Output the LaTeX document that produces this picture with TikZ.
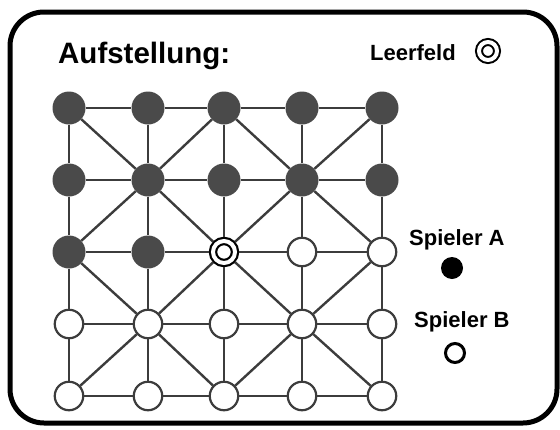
\documentclass[tikz,border=0pt]{standalone}
\usepackage{fontspec}
\setmainfont{Liberation Sans}
\definecolor{dunkelgrau}{HTML}{4A4A4A}
\definecolor{linie}{HTML}{3C3C3C}

\begin{document}
\begin{tikzpicture}[x=1pt, y=-1pt]
\tikzset{dunkel/.style={circle, fill=dunkelgrau, inner sep=0pt, minimum size=33pt},
  hell/.style={circle, draw=linie, fill=white, line width=2.2pt, inner sep=0pt, minimum size=28.5pt},
  leer/.style={circle, draw=black, double=white, line width=2.2pt, double distance=4pt, inner sep=0pt, minimum size=22pt, outer sep=4pt},
  kante/.style={draw=linie, line width=2.4pt},
  schrift/.style={inner sep=0pt, anchor=base west, font=\bfseries\fontsize{22}{24}\selectfont}}
\useasboundingbox (0,0) rectangle (560,429);
\draw[line width=5pt, rounded corners=34pt] (10,12) rectangle (557,423);
\node[schrift, font=\bfseries\fontsize{29.5}{32}\selectfont] (titel) at (58,63) {Aufstellung:};
\node[schrift] (leerfeld) at (370,60) {Leerfeld};
\node[leer, minimum size=18pt, line width=2pt, double distance=4pt] (L) at (488,51) {};
\node[schrift] (spielerA) at (409,245) {Spieler A};
\node[circle, fill=black, inner sep=0pt, minimum size=22pt] (A) at (452,268) {};
\node[schrift] (spielerB) at (414,327) {Spieler B};
\node[circle, draw=black, line width=3pt, inner sep=0pt, minimum size=19pt] (B) at (455,353) {};
% Spielbrett
\node[dunkel] (P11) at (69,108) {};
\node[dunkel] (P12) at (148,108) {};
\node[dunkel] (P13) at (224,108) {};
\node[dunkel] (P14) at (302,108) {};
\node[dunkel] (P15) at (382,108) {};
\node[dunkel] (P21) at (69,180) {};
\node[dunkel] (P22) at (148,180) {};
\node[dunkel] (P23) at (224,180) {};
\node[dunkel] (P24) at (302,180) {};
\node[dunkel] (P25) at (382,180) {};
\node[dunkel] (P31) at (69,252) {};
\node[dunkel] (P32) at (148,252) {};
\node[leer] (P33) at (224,252) {};
\node[hell] (P34) at (302,252) {};
\node[hell] (P35) at (382,252) {};
\node[hell] (P41) at (69,324) {};
\node[hell] (P42) at (148,324) {};
\node[hell] (P43) at (224,324) {};
\node[hell] (P44) at (302,324) {};
\node[hell] (P45) at (382,324) {};
\node[hell] (P51) at (69,396) {};
\node[hell] (P52) at (148,396) {};
\node[hell] (P53) at (224,396) {};
\node[hell] (P54) at (302,396) {};
\node[hell] (P55) at (382,396) {};
% Reihen
\draw[kante] (P11) -- (P12) -- (P13) -- (P14) -- (P15);
\draw[kante] (P21) -- (P22) -- (P23) -- (P24) -- (P25);
\draw[kante] (P31) -- (P32) -- (P33) -- (P34) -- (P35);
\draw[kante] (P41) -- (P42) -- (P43) -- (P44) -- (P45);
\draw[kante] (P51) -- (P52) -- (P53) -- (P54) -- (P55);
% Spalten
\draw[kante] (P11) -- (P21) -- (P31) -- (P41) -- (P51);
\draw[kante] (P12) -- (P22) -- (P32) -- (P42) -- (P52);
\draw[kante] (P13) -- (P23) -- (P33) -- (P43) -- (P53);
\draw[kante] (P14) -- (P24) -- (P34) -- (P44) -- (P54);
\draw[kante] (P15) -- (P25) -- (P35) -- (P45) -- (P55);
% Diagonalen
\draw[kante] (P11) -- (P22) -- (P33) -- (P44) -- (P55);
\draw[kante] (P15) -- (P24) -- (P33) -- (P42) -- (P51);
\draw[kante] (P13) -- (P22) -- (P31);
\draw[kante] (P13) -- (P24) -- (P35);
\draw[kante] (P31) -- (P42) -- (P53);
\draw[kante] (P35) -- (P44) -- (P53);
\end{tikzpicture}
\end{document}
